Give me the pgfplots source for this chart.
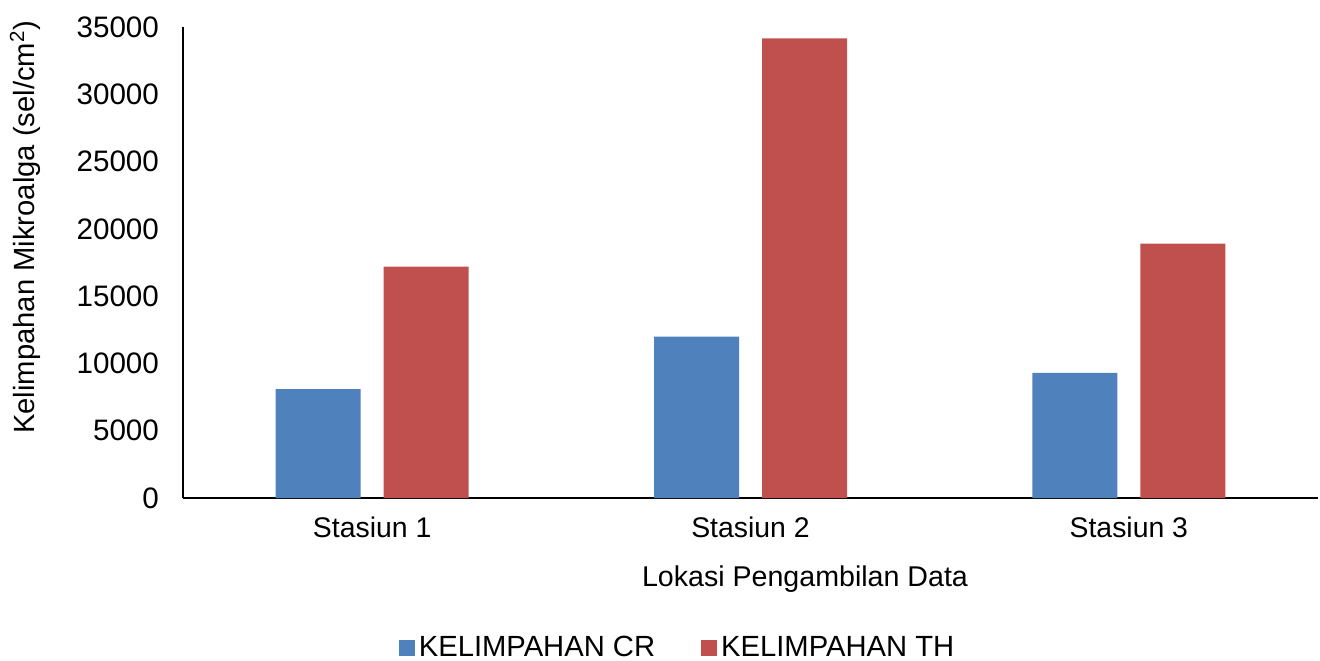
\documentclass[border=0pt]{standalone}
\usepackage{pgfplots}
\pgfplotsset{compat=1.18}
\usepackage{fontspec}
\setmainfont{Liberation Sans}
\definecolor{cr}{HTML}{4F81BD}
\definecolor{th}{HTML}{C0504D}
\begin{document}
\begin{tikzpicture}
\path[use as bounding box] (0,0) rectangle (660pt,330pt);
\begin{axis}[
  at={(91.5pt,81pt)}, anchor=south west,
  scale only axis, width=567.5pt, height=235.5pt,
  xmin=-0.5, xmax=2.5, ymin=0, ymax=35000,
  axis lines*=left,
  axis line style={black, line width=0.8pt},
  xtick={0,1,2}, xticklabels={Stasiun 1,Stasiun 2,Stasiun 3},
  ytick={0,5000,...,35000},
  major tick length=0pt,
  /pgf/number format/assume math mode=true,
  scaled y ticks=false,
  yticklabel={\pgfmathprintnumber[fixed,1000 sep={}]{\tick}},
  tick label style={black},
  yticklabel style={xshift=-8.5pt, font=\fontsize{14.8}{17}\selectfont},
  xticklabel style={yshift=-6pt, font=\fontsize{14.2}{17}\selectfont},
  xlabel={Lokasi Pengambilan Data},
  xlabel style={at={(axis description cs:0.548,0)}, anchor=center, yshift=-40.5pt, font=\fontsize{14.3}{17}\selectfont},
  ylabel={Kelimpahan Mikroalga (sel/cm\textsuperscript{2})},
  ylabel style={at={(axis description cs:-0.139,0.575)}, anchor=center, rotate=0, font=\fontsize{14.6}{17}\selectfont},
  ybar, bar width=42.5pt,
  legend columns=2,
  legend style={at={(axis description cs:0.4366,-0.318)}, anchor=center, draw=none, fill=none,
    font=\fontsize{14.6}{17}\selectfont,
    /tikz/every even column/.append style={column sep=21pt}},
  legend image code/.code={\fill[#1] (0pt,-4pt) rectangle (8pt,4pt);},
]
\addplot[fill=cr, draw=none, bar shift=-27pt] coordinates {(0,8100) (1,12000) (2,9300)};
\addplot[fill=th, draw=none, bar shift=27pt] coordinates {(0,17200) (1,34150) (2,18900)};
\legend{KELIMPAHAN CR, KELIMPAHAN TH}
\end{axis}
\end{tikzpicture}
\end{document}
